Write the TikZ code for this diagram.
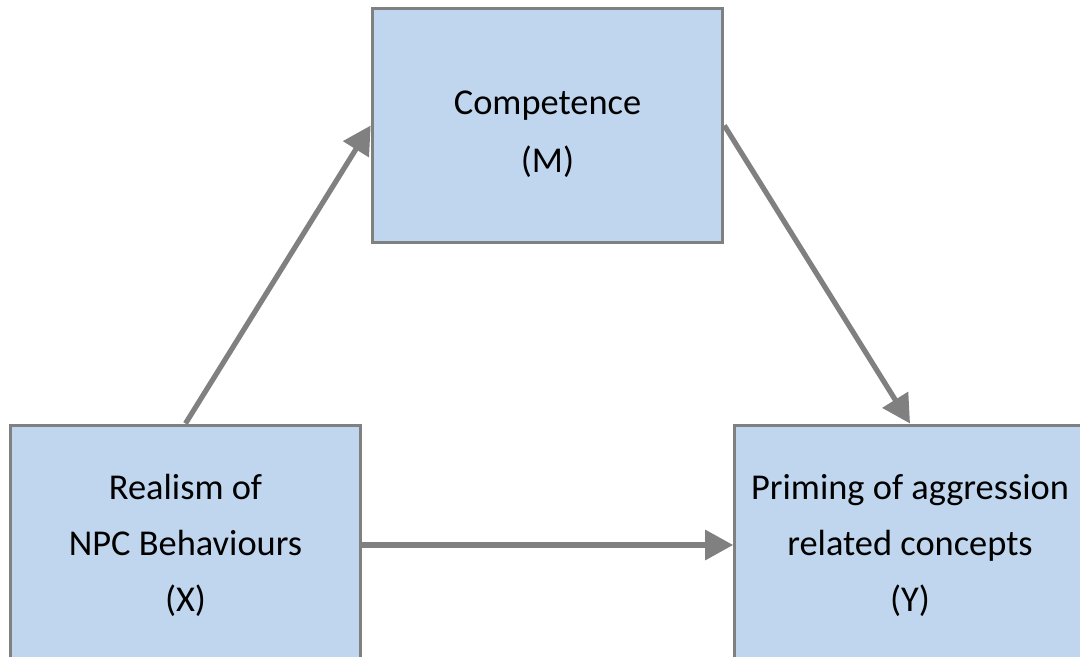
\documentclass[tikz,border=0pt]{standalone}
\usepackage{fontspec}
\setmainfont{Carlito}
\usetikzlibrary{arrows.meta}

\definecolor{boxfill}{HTML}{BFD6EE}
\definecolor{boxline}{HTML}{808080}

\tikzset{
  varbox/.style={draw=boxline, fill=boxfill, line width=2.25pt, align=center,
    font=\fontsize{27.3}{42}\selectfont, minimum width=263pt, minimum height=180pt},
  link/.style={draw=boxline, line width=3.9pt,
    -{Triangle[length=21pt,width=22pt,fill=boxline]}}
}

\begin{document}
\begin{tikzpicture}[x=0.75pt,y=-0.75pt]
  \useasboundingbox (0,0) rectangle (1080,656);
  \clip (0,0) rectangle (1080,656);

  % Mediator
  \node[varbox, minimum height=175pt] (competence) at (547.5,125.5)
    {\rule{0pt}{31pt}Competence\\[1pt](M)};
  % Predictor
  \node[varbox] (realism) at (185.5,545) {Realism of\\NPC Behaviours\\(X)};
  % Outcome
  \node[varbox] (priming) at (910,545) {Priming of aggression\\related concepts\\(Y)};

  % paths
  \draw[link] (realism.north) -- (competence.west);
  \draw[link] (competence.east) -- (priming.north);
  \draw[link] (realism.east) -- (priming.west); % direct effect
\end{tikzpicture}
\end{document}
